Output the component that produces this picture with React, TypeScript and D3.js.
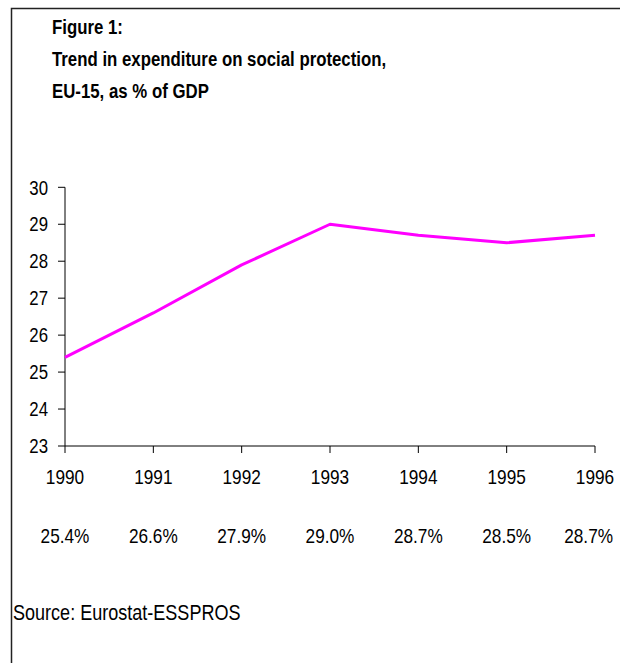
import React from "react";
import * as d3 from "d3";

const years = [1990, 1991, 1992, 1993, 1994, 1995, 1996];
const values = [25.4, 26.6, 27.9, 29.0, 28.7, 28.5, 28.7];
const valueLabels = ["25.4%", "26.6%", "27.9%", "29.0%", "28.7%", "28.5%", "28.7%"];
const yTicks = [23, 24, 25, 26, 27, 28, 29, 30];
const titleLines = ["Figure 1:", "Trend in expenditure on social protection,", "EU-15, as % of GDP"];
const sourceText = "Source: Eurostat-ESSPROS";

const FONT = "'Liberation Sans Narrow', 'Arial Narrow', 'Liberation Sans', Arial, sans-serif";
const SX = 0.82;

function NText(props: {
  x: number; y: number; size: number; anchor?: string; bold?: boolean; children: React.ReactNode;
}) {
  const { x, y, size, anchor = "start", bold = false, children } = props;
  return (
    <text
      transform={`translate(${x},${y}) scale(${SX},1)`}
      fontSize={size}
      fontWeight={bold ? "bold" : "normal"}
      textAnchor={anchor}
      fill="#000"
    >
      {children}
    </text>
  );
}

export default function App() {
  const W = 620, H = 663;
  const x = d3.scaleLinear().domain([1990, 1996]).range([65, 595]);
  const y = d3.scaleLinear().domain([23, 30]).range([446, 187.3]);
  const line = d3.line<number>().x((_, i) => x(years[i])).y((d) => y(d));

  return (
    <svg width={W} height={H} style={{ position: "absolute", left: 0, top: 0, background: "#fff" }} fontFamily={FONT}>
      <rect x={0} y={0} width={W} height={H} fill="#fff" />
      {/* frame */}
      <path d={`M${W + 2},8.5 H11.5 V${H + 2}`} fill="none" stroke="#222" strokeWidth={1.5} />
      {/* title */}
      {titleLines.map((t, i) => (
        <NText key={i} x={52} y={33.5 + i * 32} size={20.5} bold>{t}</NText>
      ))}
      {/* y axis */}
      <line x1={x(1990)} x2={x(1990)} y1={y(30)} y2={y(23)} stroke="#000" strokeWidth={1} />
      {yTicks.map((t) => (
        <g key={t}>
          <line x1={x(1990) - 7} x2={x(1990)} y1={y(t)} y2={y(t)} stroke="#000" strokeWidth={1} />
          <NText x={48} y={y(t) + 7.2} size={20.5} anchor="end">{t}</NText>
        </g>
      ))}
      {/* x axis */}
      <line x1={x(1990)} x2={x(1996)} y1={y(23)} y2={y(23)} stroke="#000" strokeWidth={1} />
      {years.map((yr, i) => (
        <g key={yr}>
          <line x1={x(yr)} x2={x(yr)} y1={y(23)} y2={y(23) + 7} stroke="#000" strokeWidth={1} />
          <NText x={x(yr)} y={483.5} size={21} anchor="middle">{yr}</NText>
          <NText
            x={i === years.length - 1 ? x(yr) + 18 : x(yr)}
            y={542.5}
            size={21}
            anchor={i === years.length - 1 ? "end" : "middle"}
          >
            {valueLabels[i]}
          </NText>
        </g>
      ))}
      {/* data line */}
      <path d={line(values) || ""} fill="none" stroke="#FF00FF" strokeWidth={3} strokeLinejoin="round" />
      {/* source */}
      <NText x={13} y={620} size={22}>{sourceText}</NText>
    </svg>
  );
}
